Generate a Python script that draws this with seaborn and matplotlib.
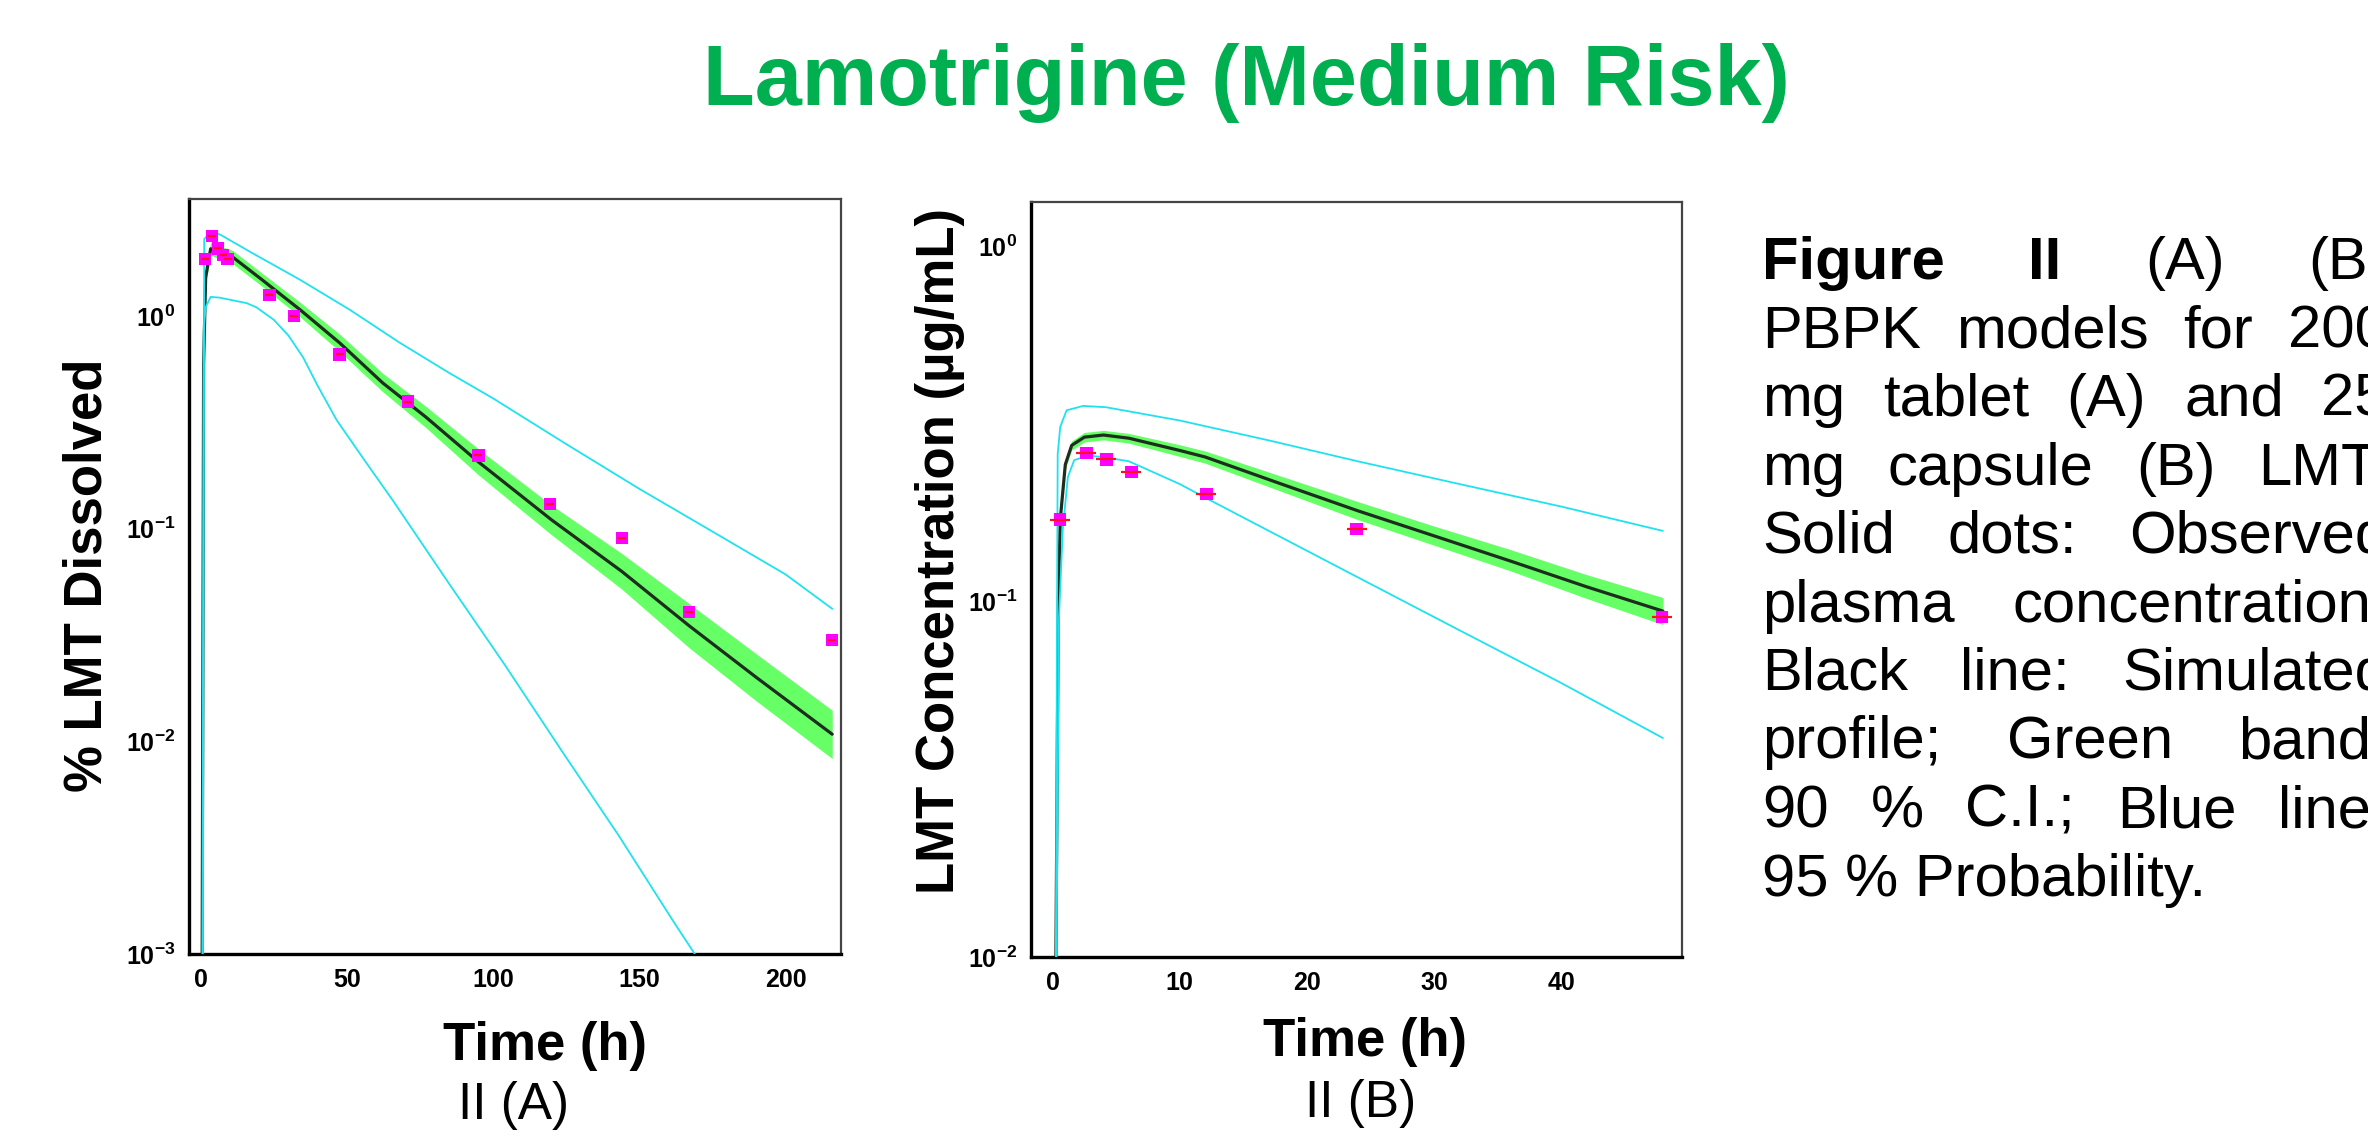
import numpy as np
import pandas as pd
import matplotlib
matplotlib.use("Agg")
import matplotlib.pyplot as plt
import seaborn as sns
from matplotlib.ticker import FixedLocator, FuncFormatter, MultipleLocator, NullFormatter

# ---------------- Panel A: 200 mg tablet ----------------
a_obs_t = [1.5, 3.8, 6, 7.7, 9.2, 23.5, 32, 47.5, 71, 95, 119.5, 144, 167, 216]
a_obs_c = [1.85, 2.37, 2.08, 1.94, 1.85, 1.26, 1.0, 0.66, 0.396, 0.221, 0.131, 0.0905, 0.0405, 0.030]
a_mean_t = [0.5, 1.0, 1.7, 3.4, 11, 21, 34, 47.6, 62.3, 77, 95, 120, 144, 167, 190, 216]
a_mean_c = [0.0009, 0.6, 1.52, 2.07, 1.89, 1.48, 1.07, 0.746, 0.484, 0.335, 0.206, 0.11, 0.063, 0.035, 0.020, 0.0108]
a_band_t = [1.7, 3.4, 11, 21, 34, 47.6, 62.3, 77, 95, 120, 144, 167, 190, 216]
a_band_lo = [1.42, 1.93, 1.76, 1.38, 0.99, 0.68, 0.44, 0.299, 0.179, 0.0936, 0.0520, 0.0276, 0.0155, 0.0083]
a_band_hi = [1.63, 2.22, 2.03, 1.59, 1.16, 0.82, 0.537, 0.376, 0.237, 0.129, 0.0765, 0.0445, 0.0258, 0.0140]
a_up_t = [0.7, 1.2, 3.8, 7, 17, 34, 51, 68, 85, 100, 125, 150, 175, 200, 216]
a_up_c = [0.0009, 2.3, 2.51, 2.4, 2.0, 1.48, 1.07, 0.75, 0.54, 0.41, 0.25, 0.154, 0.097, 0.061, 0.042]
a_lo_t = [0.6, 1.0, 1.7, 3.4, 6.5, 15.7, 19, 25, 30, 35, 40, 46.5, 56, 66, 85, 104, 124, 143, 162, 169]
a_lo_c = [0.0009, 0.85, 1.1, 1.23, 1.22, 1.15, 1.10, 0.96, 0.81, 0.64, 0.47, 0.324, 0.21, 0.134, 0.055, 0.0229, 0.0088, 0.0036, 0.0014, 0.001]

# ---------------- Panel B: 25 mg capsule ----------------
b_obs_t = [0.58, 2.66, 4.23, 6.2, 12.1, 23.9, 47.9]
b_obs_c = [0.170, 0.262, 0.251, 0.231, 0.201, 0.160, 0.0903]
b_mean_t = [0.25, 0.45, 0.6, 1.0, 1.5, 2.5, 4, 6, 10, 12, 18, 24, 30, 36, 42, 48]
b_mean_c = [0.009, 0.1, 0.17, 0.243, 0.275, 0.29, 0.294, 0.288, 0.266, 0.255, 0.214, 0.180, 0.153, 0.130, 0.110, 0.094]
b_band_t = [1.0, 1.5, 2.5, 4, 6, 10, 12, 18, 24, 30, 36, 42, 48]
b_band_lo = [0.236, 0.267, 0.281, 0.285, 0.279, 0.256, 0.245, 0.204, 0.170, 0.144, 0.122, 0.102, 0.0861]
b_band_hi = [0.250, 0.283, 0.299, 0.303, 0.297, 0.276, 0.265, 0.225, 0.191, 0.163, 0.140, 0.119, 0.1026]
b_up_t = [0.25, 0.35, 0.4, 0.6, 1.1, 2.4, 4.2, 10, 17, 24, 32, 40, 48]
b_up_c = [0.009, 0.1, 0.26, 0.31, 0.345, 0.355, 0.352, 0.323, 0.284, 0.248, 0.214, 0.185, 0.158]
b_lo_t = [0.3, 0.5, 0.8, 1.2, 1.7, 2.8, 4, 6, 10, 12, 16, 24, 32, 40, 48]
b_lo_c = [0.009, 0.09, 0.16, 0.224, 0.25, 0.257, 0.255, 0.248, 0.214, 0.196, 0.165, 0.117, 0.083, 0.059, 0.0413]

title_text = "Lamotrigine (Medium Risk)"
xlabel_text = "Time (h)"
ylabel_a = "% LMT Dissolved"
ylabel_b = "LMT Concentration (µg/mL)"
sub_a = "II (A)"
sub_b = "II (B)"
caption_lines = [
    [("Figure", "bold"), ("II", "bold"), ("(A)", "normal"), ("(B)", "normal")],
    [("PBPK", "normal"), ("models", "normal"), ("for", "normal"), ("200", "normal")],
    [("mg", "normal"), ("tablet", "normal"), ("(A)", "normal"), ("and", "normal"), ("25", "normal")],
    [("mg", "normal"), ("capsule", "normal"), ("(B)", "normal"), ("LMT.", "normal")],
    [("Solid", "normal"), ("dots:", "normal"), ("Observed", "normal")],
    [("plasma", "normal"), ("concentration;", "normal")],
    [("Black", "normal"), ("line:", "normal"), ("Simulated", "normal")],
    [("profile;", "normal"), ("Green", "normal"), ("band:", "normal")],
    [("90", "normal"), ("%", "normal"), ("C.I.;", "normal"), ("Blue", "normal"), ("line:", "normal")],
    [("95 % Probability.", "normal")],
]

# ---------------- style ----------------
sns.set_style("white")
plt.rcParams["font.family"] = ["Liberation Sans", "DejaVu Sans"]
plt.rcParams["text.color"] = "black"
plt.rcParams["axes.labelcolor"] = "black"
plt.rcParams["xtick.color"] = "black"
plt.rcParams["ytick.color"] = "black"
plt.rcParams["mathtext.fontset"] = "custom"
plt.rcParams["mathtext.rm"] = "Liberation Sans:bold"
plt.rcParams["mathtext.bf"] = "Liberation Sans:bold"
plt.rcParams["mathtext.it"] = "Liberation Sans:bold"

W, H = 2368, 1136
DPI = 100
fig = plt.figure(figsize=(W / DPI, H / DPI), dpi=DPI)
fig.patch.set_facecolor("white")


def px_axes(x0, y0, x1, y1):
    return fig.add_axes([x0 / W, 1 - y1 / H, (x1 - x0) / W, (y1 - y0) / H])


def ftext(x, y, s, **kw):
    return fig.text(x / W, 1 - y / H, s, **kw)


BAND = "#66FF66"
MEAN = "#1E2E1E"
CYAN = "#1EE3EE"
MAG = "#FF00FF"
RED = "#FF1020"


def draw_panel(ax, obs_t, obs_c, mean_t, mean_c, band_t, band_lo, band_hi,
               up_t, up_c, lo_t, lo_c, xlim, ylim, xmaj, xmin, dash_len):
    ax.set_yscale("log")
    ax.fill_between(band_t, band_lo, band_hi, color=BAND, lw=0, zorder=1)
    sns.lineplot(x=mean_t, y=mean_c, ax=ax, color=MEAN, lw=2.3, estimator=None,
                 sort=False, zorder=2)
    sns.lineplot(x=up_t, y=up_c, ax=ax, color=CYAN, lw=1.3, estimator=None,
                 sort=False, zorder=3)
    sns.lineplot(x=lo_t, y=lo_c, ax=ax, color=CYAN, lw=1.3, estimator=None,
                 sort=False, zorder=3)
    sns.scatterplot(x=obs_t, y=obs_c, ax=ax, marker="s", s=78, color=MAG,
                    edgecolor="none", zorder=4)
    ax.scatter(obs_t, obs_c, marker="_", s=dash_len, color=RED, linewidths=1.6, zorder=5)
    ax.set_xlim(*xlim)
    ax.set_ylim(*ylim)
    ax.xaxis.set_major_locator(MultipleLocator(xmaj))
    ax.xaxis.set_minor_locator(MultipleLocator(xmin))
    k0 = int(np.floor(np.log10(ylim[0])))
    k1 = int(np.ceil(np.log10(ylim[1])))
    majors = [10.0 ** k for k in range(k0, k1 + 1)]
    minors = [m * 10.0 ** k for k in range(k0, k1 + 1) for m in (0.32, 0.54, 0.78)]
    ax.yaxis.set_major_locator(FixedLocator(majors))
    ax.yaxis.set_minor_locator(FixedLocator(minors))
    ax.yaxis.set_major_formatter(FuncFormatter(
        lambda v, p: r"$\mathbf{10^{%d}}$" % int(round(np.log10(v)))))
    ax.yaxis.set_minor_formatter(NullFormatter())
    ax.xaxis.set_major_formatter(FuncFormatter(lambda v, p: "%d" % int(round(v))))
    ax.tick_params(axis="both", which="major", direction="out", length=6, width=2.2,
                   color="black", labelsize=18, pad=4, labelcolor="black")
    ax.tick_params(axis="both", which="minor", direction="out", length=3, width=1,
                   color="#666666")
    for lab in ax.get_xticklabels():
        lab.set_fontweight("bold")
    for side in ("left", "bottom"):
        ax.spines[side].set_linewidth(2.4)
        ax.spines[side].set_color("black")
    for side in ("top", "right"):
        ax.spines[side].set_linewidth(1.6)
        ax.spines[side].set_color("#444444")
    ax.set_xlabel("")
    ax.set_ylabel("")
    ax.grid(False)


axA = px_axes(189, 199, 841, 954)
draw_panel(axA, a_obs_t, a_obs_c, a_mean_t, a_mean_c, a_band_t, a_band_lo, a_band_hi,
           a_up_t, a_up_c, a_lo_t, a_lo_c, (-4, 219), (0.001, 3.55), 50, 12.5, 34)

axB = px_axes(1031, 202, 1682, 957)
draw_panel(axB, b_obs_t, b_obs_c, b_mean_t, b_mean_c, b_band_t, b_band_lo, b_band_hi,
           b_up_t, b_up_c, b_lo_t, b_lo_c, (-1.7, 49.5), (0.01, 1.33), 10, 2.5, 210)

# labels
ftext(1246, 105, title_text, ha="center", va="baseline", fontsize=61,
      fontweight="bold", color="#00B050")
ftext(545, 1046, xlabel_text, ha="center", va="center", fontsize=38, fontweight="bold")
ftext(1365, 1042, xlabel_text, ha="center", va="center", fontsize=38, fontweight="bold")
ftext(88, 575, ylabel_a, ha="center", va="center", rotation=90, fontsize=38,
      fontweight="bold")
ftext(940, 551, ylabel_b, ha="center", va="center", rotation=90, fontsize=38,
      fontweight="bold")
ftext(513, 1106, sub_a, ha="center", va="center", fontsize=37)
ftext(1361, 1104, sub_b, ha="center", va="center", fontsize=37)

# justified caption
CAP_X0 = 1762
CAP_R = 2388
CAP_BASE = 279
CAP_PITCH = 68.5
CAP_FS = 43
fig.canvas.draw()
renderer = fig.canvas.get_renderer()
for i, words in enumerate(caption_lines):
    yb = CAP_BASE + i * CAP_PITCH
    objs = []
    for w, wt in words:
        t = ftext(0, yb, w, ha="left", va="baseline", fontsize=CAP_FS, fontweight=wt)
        objs.append(t)
    widths = [o.get_window_extent(renderer).width for o in objs]
    if len(objs) > 1 and i < len(caption_lines) - 1:
        gap = (CAP_R - CAP_X0 - sum(widths)) / (len(objs) - 1)
    else:
        gap = 0
    x = CAP_X0
    for o, wd in zip(objs, widths):
        o.set_x(x / W)
        x += wd + gap

fig.savefig("out.png", dpi=DPI, facecolor="white")
